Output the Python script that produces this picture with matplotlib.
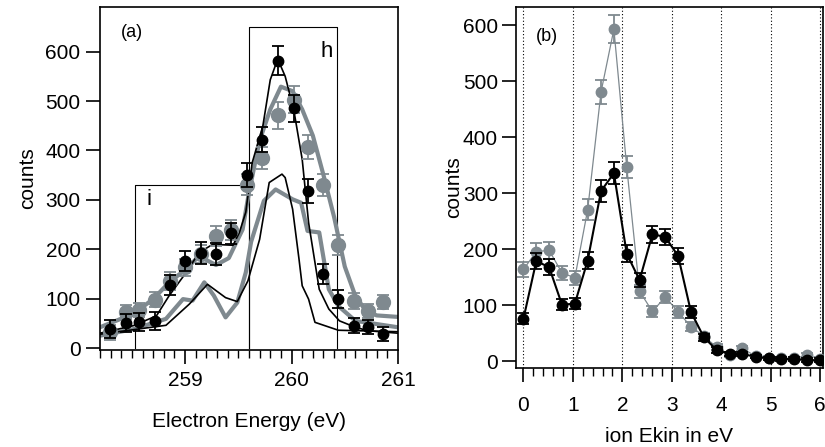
import numpy as np
import matplotlib.pyplot as plt
from matplotlib.ticker import MultipleLocator

plt.rcParams['font.family'] = ['Liberation Sans', 'DejaVu Sans']

GRAY = "#7f898f"

# ---- panel (a) data: electron energy spectra ----
e_pts = [258.29, 258.44, 258.57, 258.72, 258.86, 259.00, 259.15, 259.29, 259.43, 259.58,
         259.72, 259.87, 260.02, 260.15, 260.30, 260.44, 260.59, 260.72, 260.86]
black_a = [38, 50, 53, 54, 128, 176, 192, 190, 232, 350, 422, 582, 485, 318, 150, 99, 45, 42, 28]
black_a_err = [18, 18, 18, 18, 20, 20, 22, 22, 22, 25, 25, 30, 28, 25, 20, 18, 15, 14, 14]
gray_a = [32, 73, 77, 98, 136, 163, 190, 226, 239, 331, 385, 471, 503, 407, 330, 209, 96, 75, 93]
gray_a_err = [15, 15, 15, 15, 18, 18, 18, 20, 20, 22, 22, 28, 28, 25, 22, 20, 16, 14, 14]

# fitted curves
fit_gray_x = [258.2, 258.51, 258.70, 258.85, 259.01, 259.13, 259.29, 259.41, 259.54, 259.60,
              259.70, 259.80, 259.90, 260.01, 260.10, 260.20, 260.30, 260.40, 260.50, 260.60,
              260.70, 260.80, 261.0]
fit_gray_y = [42, 69, 99, 133, 160, 186, 168, 182, 240, 315,
              420, 483, 529, 520, 483, 430, 350, 265, 165, 105,
              75, 66, 63]
fit_black_x = [258.2, 258.51, 258.73, 258.85, 259.01, 259.13, 259.26, 259.45, 259.51, 259.57,
               259.63, 259.73, 259.80, 259.87, 259.94, 260.02, 260.10, 260.16, 260.26, 260.35,
               260.45, 260.60, 260.72, 261.0]
fit_black_y = [30, 45, 65, 106, 153, 193, 210, 208, 234, 275,
               375, 449, 543, 585, 550, 483, 382, 254, 119, 79,
               55, 42, 35, 30]

# calculated spectra (jagged)
calc_gray_x = [258.2, 258.51, 258.82, 258.98, 259.07, 259.18, 259.27, 259.38, 259.49, 259.57,
               259.62, 259.74, 259.85, 260.01, 260.09, 260.15, 260.26, 260.35, 260.44, 260.60, 261.0]
calc_gray_y = [25, 38, 59, 99, 96, 133, 106, 62, 92, 153,
               215, 298, 321, 301, 294, 237, 234, 119, 85, 55, 42]
calc_black_x = [258.2, 258.82, 259.04, 259.21, 259.38, 259.49, 259.59, 259.70, 259.79, 259.91,
                259.94, 260.01, 260.07, 260.10, 260.16, 260.22, 260.44, 261.0]
calc_black_y = [28, 46, 89, 129, 102, 94, 136, 220, 335, 352,
                345, 281, 180, 126, 99, 52, 36, 33]

# ---- panel (b) data: ion kinetic energy ----
ekin = [0.00, 0.26, 0.52, 0.78, 1.04, 1.30, 1.57, 1.83, 2.09, 2.35, 2.61, 2.87,
        3.13, 3.39, 3.65, 3.91, 4.17, 4.43, 4.70, 4.96, 5.22, 5.48, 5.74, 6.00]
black_b = [76, 179, 168, 101, 103, 180, 304, 336, 192, 145, 227, 222,
           188, 88, 43, 20, 13, 13, 8, 5, 4, 4, 2, 2]
black_b_err = [10, 15, 14, 10, 10, 15, 20, 20, 15, 13, 15, 15,
               15, 10, 6, 5, 4, 4, 3, 3, 3, 3, 3, 3]
gray_b = [164, 196, 198, 158, 149, 271, 481, 593, 347, 125, 89, 115,
          88, 62, 45, 25, 12, 23, 9, 6, 5, 5, 11, 4]
gray_b_err = [13, 15, 15, 13, 13, 18, 22, 25, 20, 12, 10, 11,
              10, 8, 6, 5, 4, 5, 3, 3, 3, 3, 3, 3]

fig = plt.figure(figsize=(8.25, 4.47), dpi=100)
ax1 = fig.add_axes([0.1212, 0.217, 0.3612, 0.767])
ax2 = fig.add_axes([0.6255, 0.1767, 0.372, 0.808])

# panel (a)
ax1.plot(calc_gray_x, calc_gray_y, color=GRAY, lw=3, zorder=2)
ax1.plot(fit_gray_x, fit_gray_y, color=GRAY, lw=3, zorder=2)
ax1.plot(calc_black_x, calc_black_y, color="black", lw=1.2, zorder=3)
ax1.plot(fit_black_x, fit_black_y, color="black", lw=1.2, zorder=3)
ax1.errorbar(e_pts, gray_a, yerr=gray_a_err, fmt="o", color=GRAY, ms=10,
             capsize=4, elinewidth=1.3, capthick=1.3, zorder=4)
ax1.errorbar(e_pts, black_a, yerr=black_a_err, fmt="o", color="black", ms=7.5,
             capsize=4, elinewidth=1.3, capthick=1.3, zorder=5)

# selection windows i and h
ax1.plot([258.53, 258.53, 259.6, 259.6], [0, 331, 331, 0], color="black", lw=0.8, zorder=1)
ax1.plot([259.6, 259.6, 260.43, 260.43], [0, 650, 650, 0], color="black", lw=0.8, zorder=1)
ax1.text(260.33, 600, "h", fontsize=16, ha="center", va="center")
ax1.text(258.665, 300, "i", fontsize=16, ha="center", va="center")
ax1.text(258.4, 638, "(a)", fontsize=13, ha="left", va="center")

ax1.set_xlim(258.2, 261.0)
ax1.set_ylim(-4, 690)
ax1.xaxis.set_major_locator(MultipleLocator(1))
ax1.xaxis.set_minor_locator(MultipleLocator(0.1))
ax1.yaxis.set_major_locator(MultipleLocator(100))
ax1.set_xlabel("Electron Energy (eV)", fontsize=15, labelpad=16)
ax1.set_ylabel("counts", fontsize=15, labelpad=6)

# panel (b)
for v in range(7):
    ax2.axvline(v, color="black", lw=0.8, ls=(0, (1, 2)), zorder=1)
ax2.errorbar(ekin, gray_b, yerr=gray_b_err, fmt="-o", color=GRAY, ms=7.5, lw=0.9,
             capsize=4, elinewidth=1.3, capthick=1.3, zorder=3)
ax2.errorbar(ekin, black_b, yerr=black_b_err, fmt="-o", color="black", ms=7.5, lw=1.5,
             capsize=4, elinewidth=1.3, capthick=1.3, zorder=4)
ax2.text(0.25, 580, "(b)", fontsize=13, ha="left", va="center")

ax2.set_xlim(-0.15, 6.06)
ax2.set_ylim(-12, 633)
ax2.xaxis.set_major_locator(MultipleLocator(1))
ax2.xaxis.set_minor_locator(MultipleLocator(0.2))
ax2.yaxis.set_major_locator(MultipleLocator(100))
ax2.set_xlabel("ion Ekin in eV", fontsize=15, labelpad=9)
ax2.set_ylabel("counts", fontsize=15, labelpad=0)

for ax in (ax1, ax2):
    ax.tick_params(axis="both", which="major", direction="out", length=10, width=1.2,
                   labelsize=15, pad=4)
    ax.tick_params(axis="x", which="minor", direction="out", length=6, width=1)
    for s in ax.spines.values():
        s.set_linewidth(1.2)
ax1.tick_params(axis="x", which="major", pad=5)
ax2.tick_params(axis="x", which="major", pad=10)
ax2.tick_params(axis="y", which="major", pad=3)

fig.savefig("out.png", dpi=100)
